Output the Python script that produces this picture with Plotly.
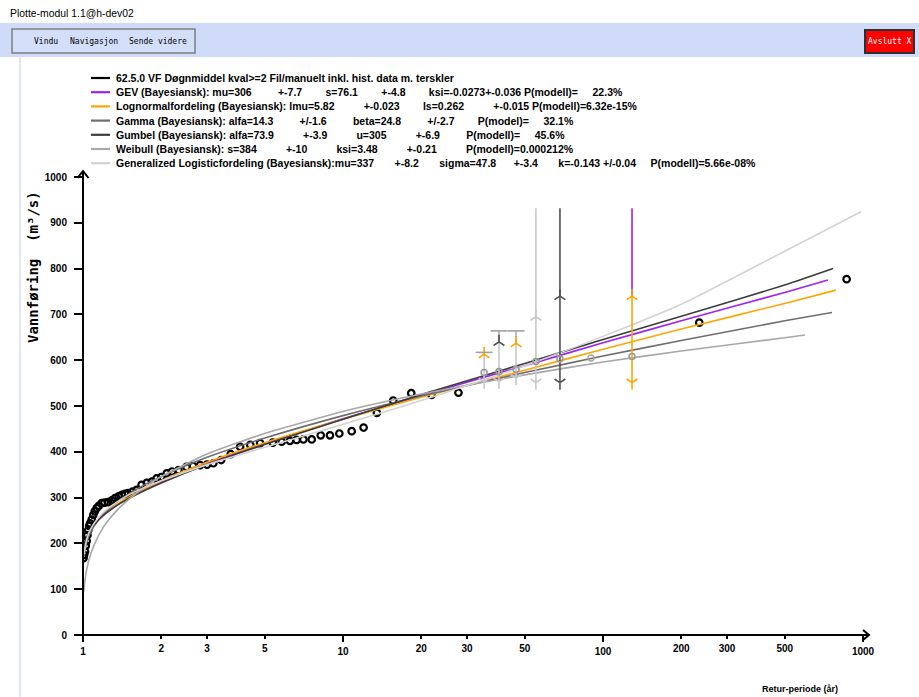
import plotly.graph_objects as go

# ------------------------------------------------------------------ data
# observed flood values (return period in years, discharge m3/s)
obs_T = [1.005, 1.01, 1.018, 1.025, 1.033, 1.04, 1.048, 1.056, 1.064, 1.08, 1.095, 1.11,
         1.129, 1.15, 1.18, 1.21, 1.248, 1.29, 1.328, 1.37, 1.409, 1.45, 1.489, 1.55,
         1.608, 1.68, 1.76, 1.84, 1.92, 2.0, 2.1, 2.2, 2.33, 2.5, 2.65, 2.82, 3.0, 3.17,
         3.4, 3.7, 4.02, 4.4, 4.8, 5.37, 5.81, 6.25, 6.63, 7.04, 7.58, 8.21, 8.91, 9.68,
         10.8, 12.0, 13.5, 15.6, 18.3, 21.9, 27.8, 234.6, 865]
obs_Q = [168, 175, 182, 195, 205, 218, 229, 238, 244, 252, 262, 270,
         277, 282, 288, 289, 290, 294, 299, 303, 306, 308, 310, 313,
         317, 328, 332, 335, 342, 345, 353, 357, 360, 367, 369, 371, 372, 375,
         382, 395, 411, 415, 419, 420, 422, 424, 426, 427, 427, 436, 436, 440,
         445, 453, 485, 512, 528, 524, 529, 682, 777]

# fitted distributions
gev_T = [1.01, 1.02, 1.05, 1.1, 1.2, 1.35, 1.5, 1.75, 2, 3, 5, 10, 20, 50, 100, 200, 500, 733]
gev_Q = [187, 200, 220, 239, 261, 283, 299, 319, 334, 374, 418, 472, 523, 588, 638, 686, 748, 775]
logn_T = [1.01, 1.02, 1.05, 1.1, 1.2, 1.35, 1.5, 1.75, 2, 3, 5, 10, 20, 50, 100, 200, 500, 787]
logn_Q = [183, 196, 218, 238, 262, 285, 301, 321, 337, 377, 420, 471, 519, 578, 624, 668, 724, 753]
gamma_T = [1.01, 1.02, 1.05, 1.1, 1.2, 1.35, 1.5, 1.75, 2, 3, 5, 10, 20, 50, 100, 200, 500, 760]
gamma_Q = [173, 189, 214, 237, 265, 290, 308, 330, 346, 388, 430, 479, 522, 573, 609, 643, 686, 704]
gumbel_T = [1.01, 1.02, 1.05, 1.1, 1.2, 1.35, 1.5, 1.75, 2, 3, 5, 10, 20, 50, 100, 200, 500, 767]
gumbel_Q = [192, 204, 223, 240, 262, 283, 298, 317, 332, 372, 416, 471, 525, 593, 645, 696, 764, 800]
weib_T = [1.008, 1.01, 1.02, 1.05, 1.1, 1.2, 1.35, 1.5, 1.75, 2, 3, 5, 10, 20, 50, 100, 200, 500, 598]
weib_Q = [95, 102, 124, 161, 195, 236, 272, 296, 325, 346, 395, 440, 488, 526, 568, 596, 620, 649, 655]
glo_T = [1.01, 1.02, 1.05, 1.1, 1.2, 1.35, 1.5, 1.75, 2, 3, 5, 10, 20, 50, 100, 200, 500, 982]
glo_Q = [176, 194, 221, 243, 268, 290, 306, 324, 337, 372, 410, 460, 512, 588, 652, 722, 838, 924]

# historical / threshold intervals
hist_T = [34.9, 39.8, 46.3, 55.2, 68.3, 129.3]
hist_Q = [573, 575, 580, 597, 603, 608]
hist_low = [553, 553, 561, 551, 551, 551]
hist_up = [613, 640, 637, 695, 740, 740]
hist_top = [617, 664, 664, 932, 932, 932]
extra_T = [89.9]
extra_Q = [605]


def gap(n):
    return "\u00a0" * n


legend_labels = [
    "62.5.0 VF Døgnmiddel kval>=2 Fil/manuelt inkl. hist. data m. terskler",
    "GEV (Bayesiansk): mu=306" + gap(9) + "+-7.7" + gap(8) + "s=76.1" + gap(8) + "+-4.8"
    + gap(8) + "ksi=-0.0273+-0.036 P(modell)=" + gap(5) + "22.3%",
    "Lognormalfordeling (Bayesiansk): lmu=5.82" + gap(10) + "+-0.023" + gap(8) + "ls=0.262"
    + gap(10) + "+-0.015 P(modell)=6.32e-15%",
    "Gamma (Bayesiansk): alfa=14.3" + gap(9) + "+/-1.6" + gap(9) + "beta=24.8" + gap(9)
    + "+/-2.7" + gap(8) + "P(model)=" + gap(5) + "32.1%",
    "Gumbel (Bayesiansk): alfa=73.9" + gap(10) + "+-3.9" + gap(10) + "u=305" + gap(10)
    + "+-6.9" + gap(9) + "P(modell)=" + gap(5) + "45.6%",
    "Weibull (Bayesiansk): s=384" + gap(10) + "+-10" + gap(10) + "ksi=3.48" + gap(10)
    + "+-0.21" + gap(10) + "P(modell)=0.000212%",
    "Generalized Logisticfordeling (Bayesiansk):mu=337" + gap(7) + "+-8.2" + gap(7)
    + "sigma=47.8" + gap(6) + "+-3.4" + gap(7) + "k=-0.143 +/-0.04" + gap(5)
    + "P(modell)=5.66e-08%",
]
x_major_ticks = [1, 10, 100, 1000]
x_minor_ticks = [2, 3, 5, 20, 30, 50, 200, 300, 500]
y_ticks = [0, 100, 200, 300, 400, 500, 600, 700, 800, 900, 1000]

# ------------------------------------------------------------------ styles
C_GEV, C_LOGN, C_GAMMA, C_GUMBEL, C_WEIB, C_GLO = (
    "#a020f0", "#ffa500", "#6e6e6e", "#3c3c3c", "#a8a8a8", "#d3d3d3")
legend_colors = ["#000000", C_GEV, C_LOGN, C_GAMMA, C_GUMBEL, C_WEIB, C_GLO]
arrow_low_col = ["#c8c8c8", "#c8c8c8", "#c8c8c8", "#c8c8c8", "#505050", C_LOGN]
arrow_top_col = ["#c8c8c8", "#b0b0b0", "#b0b0b0", "#c8c8c8", "#505050", C_GEV]
arrow_up_col = [C_LOGN, "#505050", C_LOGN, "#c8c8c8", "#505050", C_LOGN]
arrow_dn_col = ["#c8c8c8", "#c8c8c8", "#c8c8c8", "#c8c8c8", "#505050", C_LOGN]
arrow_bar = [True, True, True, False, False, False]

FIG_W, FIG_H = 919, 697
L, R, TOP, BOT = 83, 863, 177, 635


def px(x):
    return (x - L) / (R - L)


def py(y):
    return (BOT - y) / (BOT - TOP)


SANS = "Liberation Sans"
MONO = "DejaVu Sans Mono"

fig = go.Figure()

# observations
fig.add_trace(go.Scatter(x=obs_T, y=obs_Q, mode="markers", showlegend=False,
                         marker=dict(symbol="circle-open", size=6.5, color="black",
                                     line=dict(width=2.2, color="black"))))

# fitted curves
for tx, qy, col in [(gev_T, gev_Q, C_GEV), (logn_T, logn_Q, C_LOGN),
                    (gamma_T, gamma_Q, C_GAMMA), (gumbel_T, gumbel_Q, C_GUMBEL),
                    (weib_T, weib_Q, C_WEIB), (glo_T, glo_Q, C_GLO)]:
    fig.add_trace(go.Scatter(x=tx, y=qy, mode="lines", showlegend=False,
                             line=dict(color=col, width=1.6, shape="spline", smoothing=0.6)))

# interval arrows
for i in range(len(hist_T)):
    t = hist_T[i]
    fig.add_trace(go.Scatter(x=[t, t], y=[hist_low[i], hist_up[i]], mode="lines",
                             showlegend=False, line=dict(color=arrow_low_col[i], width=1.6)))
    fig.add_trace(go.Scatter(x=[t, t], y=[hist_up[i], hist_top[i]], mode="lines",
                             showlegend=False, line=dict(color=arrow_top_col[i], width=1.6)))
    fig.add_trace(go.Scatter(x=[t], y=[hist_up[i]], mode="markers", showlegend=False,
                             marker=dict(symbol="y-up", size=9, color=arrow_up_col[i],
                                         line=dict(width=1.6, color=arrow_up_col[i]))))
    fig.add_trace(go.Scatter(x=[t], y=[hist_low[i]], mode="markers", showlegend=False,
                             marker=dict(symbol="y-down", size=9, color=arrow_dn_col[i],
                                         line=dict(width=1.6, color=arrow_dn_col[i]))))
    if arrow_bar[i]:
        fig.add_trace(go.Scatter(x=[t], y=[hist_top[i]], mode="markers", showlegend=False,
                                 marker=dict(symbol="line-ew", size=12, color="#a0a0a0",
                                             line=dict(width=1.6, color="#a0a0a0"))))

fig.add_trace(go.Scatter(x=hist_T, y=hist_Q, mode="markers", showlegend=False,
                         marker=dict(symbol="circle-open", size=6, color="#999999",
                                     line=dict(width=1.6, color="#999999"))))
fig.add_trace(go.Scatter(x=extra_T, y=extra_Q, mode="markers", showlegend=False,
                         marker=dict(symbol="circle-open", size=6, color="#aaaaaa",
                                     line=dict(width=1.5, color="#aaaaaa"))))
# dummy trace for the overlay axis holding minor tick labels
fig.add_trace(go.Scatter(x=[None], y=[None], xaxis="x2", showlegend=False))

shapes = []
annotations = []

# window chrome
shapes.append(dict(type="rect", xref="paper", yref="paper", x0=px(0), x1=px(FIG_W),
                   y0=py(23), y1=py(57), fillcolor="#cfdbf8", line=dict(width=0), layer="below"))
shapes.append(dict(type="line", xref="paper", yref="paper", x0=px(20), x1=px(20),
                   y0=py(57), y1=py(FIG_H), line=dict(color="#c3cfee", width=1)))
shapes.append(dict(type="rect", xref="paper", yref="paper", x0=px(12), x1=px(195),
                   y0=py(29), y1=py(53), fillcolor="#d3def9",
                   line=dict(color="#7f7f7f", width=1.5)))
shapes.append(dict(type="rect", xref="paper", yref="paper", x0=px(865), x1=px(914),
                   y0=py(30), y1=py(53), fillcolor="#ff0000",
                   line=dict(color="#303030", width=2)))
annotations.append(dict(text="Plotte-modul 1.1@h-dev02", xref="paper", yref="paper",
                        x=px(8), y=py(13), xanchor="left", yanchor="middle", showarrow=False,
                        font=dict(family=SANS, size=10.4, color="black")))
for label, xl in [("Vindu", 32), ("Navigasjon", 68), ("Sende videre", 127)]:
    annotations.append(dict(text=label, xref="paper", yref="paper", x=px(xl), y=py(42),
                            xanchor="left", yanchor="middle", showarrow=False,
                            font=dict(family=MONO, size=8, color="black")))
annotations.append(dict(text="Avslutt X", xref="paper", yref="paper", x=px(889.5), y=py(42),
                        xanchor="center", yanchor="middle", showarrow=False,
                        font=dict(family=MONO, size=8, color="white")))

# axis lines with arrow heads
ax_line = dict(color="black", width=2)
shapes.append(dict(type="line", xref="paper", yref="paper", x0=px(83), x1=px(83),
                   y0=py(641), y1=py(171), line=ax_line))
shapes.append(dict(type="path", xref="paper", yref="paper",
                   path=f"M {px(77.5)} {py(178)} L {px(83)} {py(171)} L {px(88.5)} {py(178)}",
                   line=ax_line))
shapes.append(dict(type="line", xref="paper", yref="paper", x0=px(75), x1=px(869),
                   y0=py(635), y1=py(635), line=ax_line))
shapes.append(dict(type="path", xref="paper", yref="paper",
                   path=f"M {px(863)} {py(630)} L {px(869)} {py(635)} L {px(863)} {py(640)}",
                   line=ax_line))

# legend drawn as samples + text
for i, (lab, col) in enumerate(zip(legend_labels, legend_colors)):
    yc = 78 + i * 14.2
    shapes.append(dict(type="line", xref="paper", yref="paper", x0=px(91), x1=px(110),
                       y0=py(yc), y1=py(yc), line=dict(color=col, width=2.2)))
    annotations.append(dict(text=lab, xref="paper", yref="paper", x=px(114), y=py(yc),
                            xanchor="left", yanchor="middle", showarrow=False,
                            font=dict(family=SANS, size=10.5, color="black", weight="bold")))

# axis titles
annotations.append(dict(text="Vannføring\u00a0\u00a0(m³/s)", xref="paper", yref="paper",
                        x=px(33), y=py(267), textangle=-90, showarrow=False,
                        xanchor="center", yanchor="middle",
                        font=dict(family=MONO, size=14, color="black", weight="bold")))
annotations.append(dict(text="Retur-periode (år)", xref="paper", yref="paper",
                        x=px(800), y=py(689), showarrow=False, xanchor="center",
                        yanchor="middle",
                        font=dict(family=SANS, size=9, color="black", weight="bold")))

tickfont = dict(family=SANS, size=10, color="black", weight="bold")
fig.update_layout(
    width=FIG_W, height=FIG_H,
    margin=dict(l=L, r=FIG_W - R, t=TOP, b=FIG_H - BOT, pad=0),
    paper_bgcolor="white", plot_bgcolor="white",
    showlegend=False,
    xaxis=dict(type="log", range=[0, 3], tickvals=x_major_ticks,
               ticktext=[str(v) for v in x_major_ticks], ticks="outside", ticklen=6,
               tickwidth=2, tickcolor="black", showline=False, showgrid=False,
               zeroline=False, tickfont=tickfont, ticklabelstandoff=1),
    xaxis2=dict(type="log", range=[0, 3], overlaying="x", anchor="y", side="bottom",
                tickvals=x_minor_ticks, ticktext=[str(v) for v in x_minor_ticks],
                ticks="outside", ticklen=3, tickwidth=2, tickcolor="black",
                showline=False, showgrid=False, zeroline=False, tickfont=tickfont,
                ticklabelstandoff=1),
    yaxis=dict(range=[0, 1000], tickvals=y_ticks, ticks="outside", ticklen=8,
               tickwidth=2, tickcolor="black", showline=False, showgrid=False,
               zeroline=False, tickfont=tickfont, ticklabelstandoff=5),
    shapes=shapes,
    annotations=annotations,
)

fig.write_html("out.html", config={"displayModeBar": False},
               post_script="document.body.style.margin='0';document.body.style.padding='0';")
